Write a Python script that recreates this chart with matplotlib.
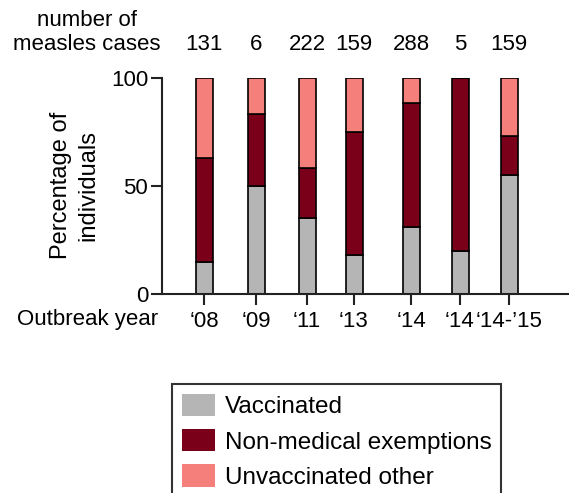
import matplotlib
matplotlib.use("Agg")
import matplotlib.pyplot as plt
import matplotlib.transforms as mtransforms
import numpy as np

# data
years = ["\u201808", "\u201809", "\u201811", "\u201813", "\u201814", "\u201814", "\u201814-\u201915"]
cases = [131, 6, 222, 159, 288, 5, 159]
vaccinated = [15, 50, 35, 18, 31, 20, 55]
non_medical = [48, 33, 23, 57, 57, 80, 18]
unvaccinated_other = [37, 17, 42, 25, 12, 0, 27]

# bar positions (layout only, slightly uneven in the original)
xpos = [204, 256, 307, 354, 411, 460, 509]

c_vac = "#b5b5b5"
c_nme = "#7a0019"
c_unv = "#f47f7b"

plt.rcParams["font.family"] = ["Liberation Sans", "DejaVu Sans"]
plt.rcParams["font.size"] = 16

fig = plt.figure(figsize=(5.69, 4.93), dpi=100)
ax = fig.add_axes([162 / 569, 1 - 294 / 493, (568 - 162) / 569, (294 - 77.5) / 493])

vac = np.array(vaccinated)
nme = np.array(non_medical)
unv = np.array(unvaccinated_other)
w = 17
kw = dict(width=w, edgecolor="black", linewidth=1.2)
ax.bar(xpos, vac, color=c_vac, label="Vaccinated", **kw)
ax.bar(xpos, nme, bottom=vac, color=c_nme, label="Non-medical exemptions", **kw)
ax.bar(xpos, unv, bottom=vac + nme, color=c_unv, label="Unvaccinated other", **kw)

ax.set_xlim(162, 568)
ax.set_ylim(0, 100)
ax.spines["top"].set_visible(False)
ax.spines["right"].set_visible(False)
for s in ["left", "bottom"]:
    ax.spines[s].set_linewidth(1.5)
    ax.spines[s].set_color("#222222")
ax.set_yticks([0, 50, 100])
ax.set_xticks(xpos)
ax.set_xticklabels(years)
ax.tick_params(axis="both", length=8, width=1.5, color="#222222", labelsize=16)
ax.tick_params(axis="x", pad=4)
ax.tick_params(axis="y", pad=2)

ax.set_ylabel("Percentage of\nindividuals", fontsize=17, linespacing=1.35, labelpad=8)

# counts above the bars
trans = mtransforms.blended_transform_factory(ax.transData, fig.transFigure)
for x, n in zip(xpos, cases):
    ax.text(x, 1 - 44 / 493, str(n), transform=trans, ha="center", va="center", fontsize=16)

fig.text(87 / 569, 1 - 21 / 493, "number of", ha="center", va="center", fontsize=16)
fig.text(87 / 569, 1 - 45 / 493, "measles cases", ha="center", va="center", fontsize=16)
fig.text(88 / 569, 1 - 319 / 493, "Outbreak year", ha="center", va="center", fontsize=16)

leg = fig.legend(loc="upper left", bbox_to_anchor=(172 / 569, 1 - 384 / 493),
                 frameon=True, fancybox=False, fontsize=17.5, handlelength=1.36,
                 handleheight=1.03, handletextpad=0.42, labelspacing=0.45,
                 borderpad=0.4, borderaxespad=0)
leg.get_frame().set_edgecolor("black")
leg.get_frame().set_linewidth(1.5)
for h in leg.legend_handles:
    h.set_edgecolor("none")

fig.savefig("out.png", dpi=100)
